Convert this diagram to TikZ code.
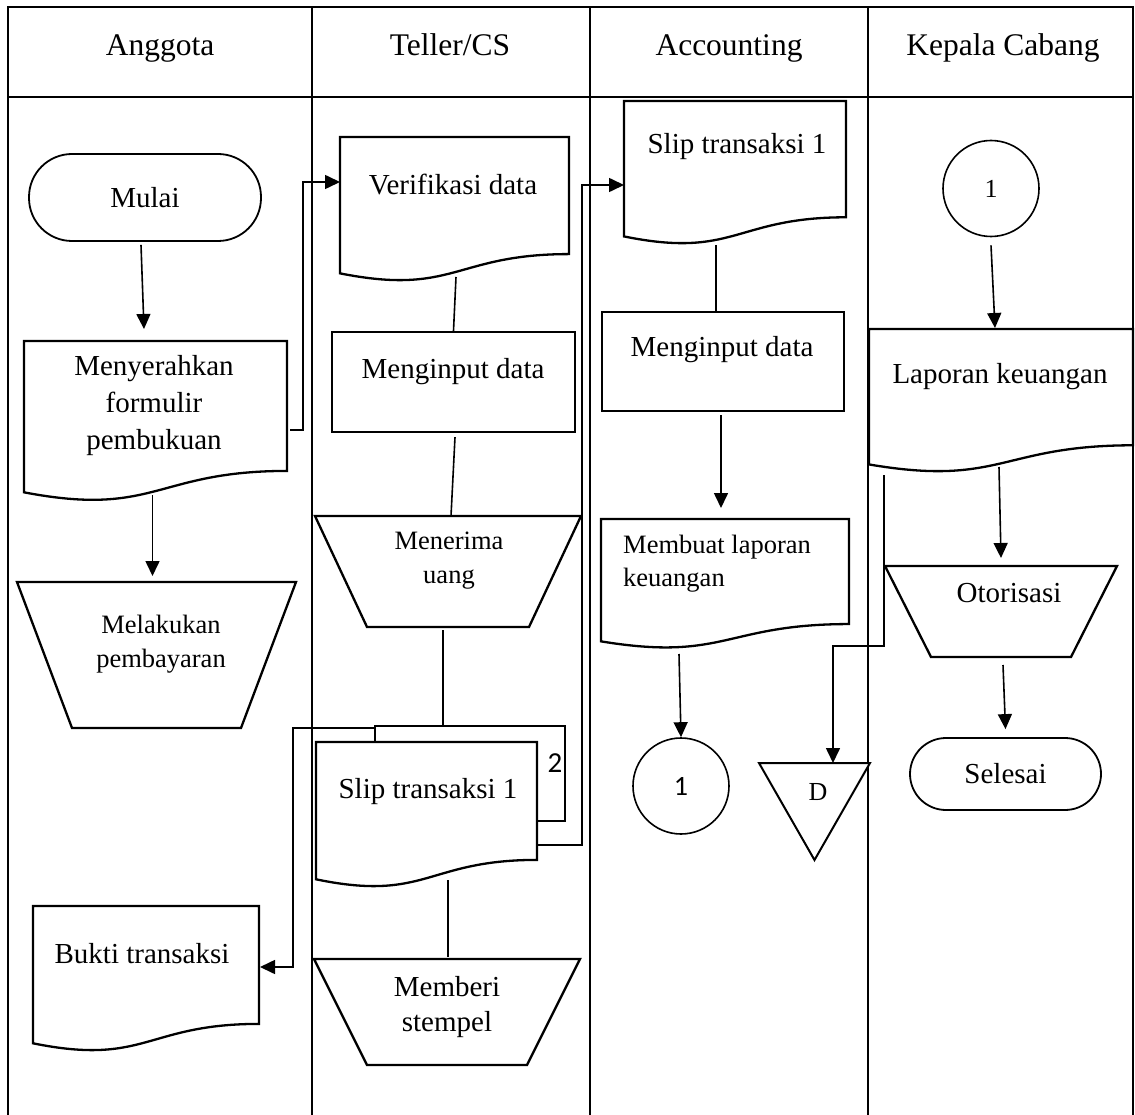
\documentclass[tikz,border=0pt]{standalone}
\usepackage{fontspec}
\setmainfont{Liberation Serif}
\newfontfamily\calibri{Carlito}
\usepackage{tikz}
\usetikzlibrary{calc,positioning,arrows.meta,shapes}

\begin{document}
\begin{tikzpicture}[x=1pt,y=-1pt,
    frame/.style={line width=2pt},
    bound/.style={draw=none,inner sep=0pt,outer sep=0pt},
    outline/.style={line width=2.3pt,fill=white},
    term/.style={draw,line width=1.8pt,rounded corners=#1,inner sep=0pt,font=\fontsize{29}{35}\selectfont},
    conn/.style={draw,circle,line width=1.6pt,minimum size=96pt,inner sep=0pt},
    txt/.style={align=center,inner sep=0pt,font=\fontsize{29}{37}\selectfont},
    sml/.style={align=center,inner sep=0pt,font=\fontsize{26.5}{34.5}\selectfont},
    head/.style={inner sep=0pt,anchor=base,font=\fontsize{31.5}{36}\selectfont},
    link/.style={line width=1.6pt},
    arr/.style={line width=1.6pt,-{Triangle[length=15pt,width=14pt]}}]
    \useasboundingbox (0,0) rectangle (1135,1115);

    % table
    \draw[frame,line width=2.6pt] (8,1115) -- (8,7) -- (1133,7) -- (1133,1115);
    \draw[frame,line width=2.6pt] (8,97) -- (1133,97);
    \foreach \x in {312,590,868}
        \draw[frame] (\x,7) -- (\x,1115);

    \node[head] (h-anggota) at (160,56) {Anggota};
    \node[head] (h-teller)  at (450,56) {Teller/CS};
    \node[head] (h-acc)     at (729,56) {Accounting};
    \node[head] (h-kepala)  at (1003,56) {Kepala Cabang};

    % Anggota
    \node[term=43pt,minimum width=232pt,minimum height=87pt] (mulai) at (145,197.5) {Mulai};
    \node[bound,minimum width=263pt,minimum height=162pt] (serah) at (155.5,422) {};
    \node[bound,minimum width=279pt,minimum height=146pt] (bayar) at (156.5,655) {};
    \node[bound,minimum width=226pt,minimum height=147pt] (bukti) at (146,979.5) {};

    % Teller/CS
    \node[bound,minimum width=229pt,minimum height=146pt] (verif) at (454.5,210) {};
    \node[draw,line width=2.3pt,minimum width=243pt,minimum height=100pt,inner sep=0pt] (input1) at (453.5,382) {};
    \node[bound,minimum width=266pt,minimum height=111pt] (terima) at (448,571.5) {};
    \node[draw,outline,minimum width=190pt,minimum height=95pt,inner sep=0pt] (slipback) at (470,773.5) {};
    \node[bound,minimum width=221pt,minimum height=147pt] (slip) at (426.5,815.5) {};
    \node[bound,minimum width=266pt,minimum height=106pt] (stempel) at (447,1012) {};

    % Accounting
    \node[bound,minimum width=222pt,minimum height=145pt] (slipB) at (735,173.5) {};
    \node[draw,line width=2.3pt,minimum width=242pt,minimum height=99pt,inner sep=0pt] (input2) at (723,361.5) {};
    \node[bound,minimum width=248pt,minimum height=131pt] (buat) at (725,584.5) {};
    \node[conn] (con1) at (681,786) {\fontsize{28}{30}\calibri 1};
    \node[bound,minimum width=111pt,minimum height=97pt] (dstore) at (814.5,811.5) {};

    % Kepala Cabang
    \node[conn] (con2) at (991,188.5) {\fontsize{26}{30}\selectfont 1};
    \node[bound,minimum width=264pt,minimum height=145pt] (lapor) at (1001,401.5) {};
    \node[bound,minimum width=232pt,minimum height=91pt] (otor) at (1001,611.5) {};
    \node[term=36pt,minimum width=191pt,minimum height=72pt] (selesai) at (1005.5,774) {Selesai};

    % document shapes
    \foreach \n in {serah,bukti,verif,slip,slipB,buat,lapor}
        \draw[outline] (\n.north west) -- (\n.north east)
            -- ($(\n.north east)!0.802!(\n.south east)$)
            .. controls ($(\n.north)!0.802!(\n.south)$) and ($(\n.north)!1.09!(\n.south)$)
            .. ($(\n.north west)!0.934!(\n.south west)$) -- cycle;

    % manual operations
    \foreach \n/\o in {bayar/55,terima/52,stempel/53,otor/46}
        \draw[outline] (\n.north west) -- (\n.north east)
            -- ($(\n.south east)+(-\o,0)$) -- ($(\n.south west)+(\o,0)$) -- cycle;

    \draw[outline,line width=2pt] (dstore.north west) -- (dstore.north east) -- (dstore.south) -- cycle;

    % texts
    \node[txt] (serah-t)   at (154,406)   {Menyerahkan\\formulir\\pembukuan};
    \node[sml] (bayar-t)   at (161,644)   {Melakukan\\pembayaran};
    \node[txt] (bukti-t)   at (142,954)   {Bukti transaksi};
    \node[txt] (verif-t)   at (453,185)   {Verifikasi data};
    \node[txt] (input1-t)  at (453,372)   {Menginput data};
    \node[sml] (terima-t)  at (449,560.5) {Menerima\\uang};
    \node[txt] (slip-t)    at (428,792)   {Slip transaksi 1};
    \node[inner sep=0pt,font=\fontsize{29}{30}\calibri] (two) at (555,763) {2};
    \node[txt,font=\fontsize{29}{35}\selectfont] (stempel-t) at (447,1007.5) {Memberi\\stempel};
    \node[txt] (slipB-t)   at (737,147)   {Slip transaksi 1};
    \node[txt] (input2-t)  at (722,350)   {Menginput data};
    \node[sml,align=left,anchor=west,font=\fontsize{26.5}{33}\selectfont] (buat-t) at (623,563.5) {Membuat laporan\\keuangan};
    \node[inner sep=0pt,font=\fontsize{26}{30}\selectfont] (d-t) at (818,792) {D};
    \node[txt] (lapor-t)   at (1000,377)  {Laporan keuangan};
    \node[txt] (otor-t)    at (1009,593)  {Otorisasi};

    % connectors
    \draw[arr] ($(mulai.south)+(-4,3)$) -- ($(serah.north)+(-11.5,-12)$);
    \draw[arr] ($(serah.east)+(3,8)$) -- ++(13,0) |- ($(verif.west)+(0,-28)$);
    \draw[arr] ($(serah.south)+(-3,-8)$) -- ($(bayar.north)+(-4,-6)$);
    \draw[arr] ($(slipback.north west)+(0,3)$) -- ++(-81,0) |- ($(bukti.east)+(1,-12.5)$);
    \draw[link] ($(verif.south)+(1.5,-6)$) -- (input1.north);
    \draw[link] ($(input1.south)+(1.5,4)$) -- ($(terima.north)+(3,0)$);
    \draw[link] ($(terima.south)+(-5,3)$) -- ($(slipback.north)+(-27,0)$);
    \draw[link] ($(slip.south)+(21.5,-9)$) -- ($(stempel.north)+(1,-2)$);
    \draw[arr] ($(slip.east)+(0,29.5)$) -- ++(45,0) |- ($(slipB.west)+(0,11.5)$);
    \draw[link] ($(slipB.south)+(-19,-1)$) -- ($(input2.north)+(-7,0)$);
    \draw[arr] ($(input2.south)+(-2,3)$) -- ($(buat.north)+(-4,-11)$);
    \draw[arr] ($(buat.south)+(-46,4)$) -- (con1.north);
    \draw[arr] ($(con2.south)+(0,8)$) -- ($(lapor.north)+(-6,-1)$);
    \draw[arr] ($(lapor.south)+(-2,-7)$) -- ($(otor.north)+(0,-8)$);
    \draw[arr] ($(lapor.south west)+(15,1)$) -- ++(0,171) -| ($(dstore.north)+(18.5,0)$);
    \draw[arr] ($(otor.south)+(2,8)$) -- ($(selesai.north)+(0,-8)$);
\end{tikzpicture}
\end{document}
